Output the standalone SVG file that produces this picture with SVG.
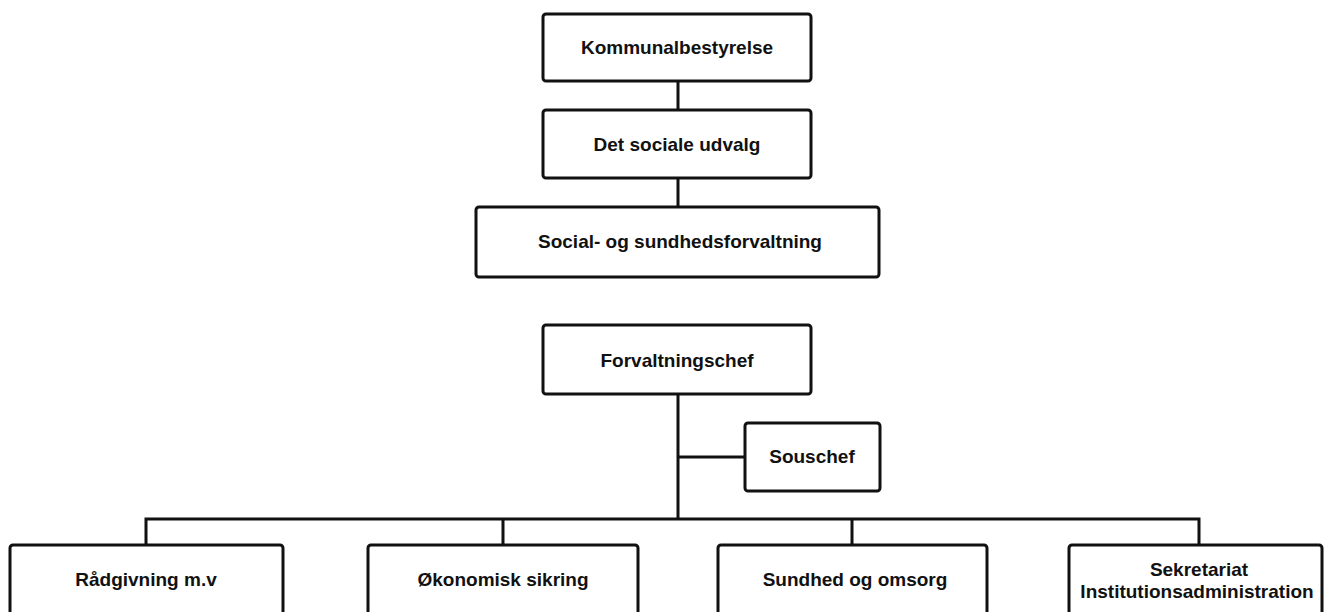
<svg xmlns="http://www.w3.org/2000/svg" width="1324" height="612" viewBox="0 0 1324 612">
<style>
.box{fill:#fff;stroke:#111;stroke-width:3}
.ln{fill:none;stroke:#111;stroke-width:3}
.t{font-family:"Liberation Sans",Arial,sans-serif;font-weight:bold;font-size:19px;fill:#111;text-anchor:middle}
</style>
<rect width="1324" height="612" fill="#fff"/>
<g id="connectors">
<path class="ln" d="M678 81V110M678 178V207M678 394V519M678 457H745M146 545V519H1199V545M503 519V545M852 519V545"/>
</g>
<g id="n1"><rect class="box" x="543" y="14" width="268" height="67" rx="3"/><text class="t" x="677" y="54">Kommunalbestyrelse</text></g>
<g id="n2"><rect class="box" x="543" y="110" width="268" height="68" rx="3"/><text class="t" x="677" y="151">Det sociale udvalg</text></g>
<g id="n3"><rect class="box" x="476" y="207" width="403" height="70" rx="3"/><text class="t" x="680" y="248">Social- og sundhedsforvaltning</text></g>
<g id="n4"><rect class="box" x="543" y="325" width="268" height="69" rx="3"/><text class="t" x="677" y="367">Forvaltningschef</text></g>
<g id="n5"><rect class="box" x="745" y="423" width="135" height="68" rx="3"/><text class="t" x="812" y="463">Souschef</text></g>
<g id="n6"><rect class="box" x="10" y="545" width="273" height="100" rx="3"/><text class="t" x="146" y="586">Rådgivning m.v</text></g>
<g id="n7"><rect class="box" x="368" y="545" width="270" height="100" rx="3"/><text class="t" x="503" y="586">Økonomisk sikring</text></g>
<g id="n8"><rect class="box" x="718" y="545" width="269" height="100" rx="3"/><text class="t" x="855" y="586">Sundhed og omsorg</text></g>
<g id="n9"><rect class="box" x="1069" y="545" width="253" height="100" rx="3"/><text class="t" x="1199" y="576">Sekretariat</text><text class="t" x="1197" y="598">Institutionsadministration</text></g>
</svg>
